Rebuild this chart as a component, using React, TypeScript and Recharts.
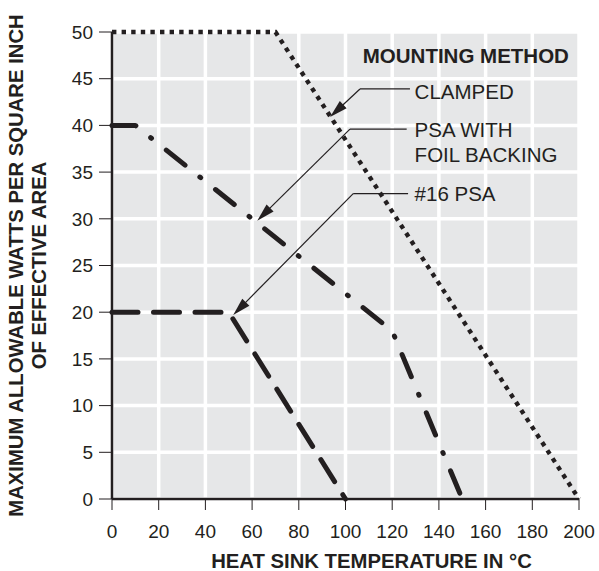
import React from "react";
import { LineChart, Line, XAxis, YAxis, CartesianGrid, ReferenceLine, ReferenceDot, Label } from "recharts";

const FONT = '"Liberation Sans", Arial, Helvetica, sans-serif';
const INK = "#231f20";

// heat sink temperature (°C) / allowable watts per square inch
const clampedX = [0, 70, 200];
const clampedY = [50, 50, 0];
const foilX = [0, 10, 120, 150];
const foilY = [40, 40, 18, 0];
const psaX = [0, 50, 100];
const psaY = [20, 20, 0];

const xTicks = [0, 20, 40, 60, 80, 100, 120, 140, 160, 180, 200];
const yTicks = [0, 5, 10, 15, 20, 25, 30, 35, 40, 45, 50];

// callouts (data units)
const calloutText = [["CLAMPED"], ["PSA WITH", "FOIL BACKING"], ["#16 PSA"]];
const calloutTip = [[93.4, 40.9], [62.2, 29.8], [51.9, 19.7]];
const calloutKnee = [[106.2, 43.9], [101.9, 39.6], [103.3, 32.7]];
const calloutEndX = [127.6, 126.2, 126.8];
const calloutTextAt = [[129.6, 42.8], [129.6, 38.73], [129.6, 31.94]];
const legendTitle = "MOUNTING METHOD";
const legendTitleAt = [107.4, 46.65];

const toPoints = (xs: number[], ys: number[]) => xs.map((x, i) => ({ x, y: ys[i] }));

const clamped = toPoints(clampedX, clampedY);
const foil = toPoints(foilX, foilY);
const psa = toPoints(psaX, psaY);

function ArrowLine(props: any) {
  const { x1, y1, x2, y2 } = props;
  const dx = x2 - x1;
  const dy = y2 - y1;
  const len = Math.hypot(dx, dy) || 1;
  const ux = dx / len;
  const uy = dy / len;
  const L = 18;
  const W = 5;
  const bx = x2 - ux * L;
  const by = y2 - uy * L;
  const pts = `${x2},${y2} ${bx - uy * W},${by + ux * W} ${bx + uy * W},${by - ux * W}`;
  return (
    <g>
      <line x1={x1} y1={y1} x2={bx + ux * 2} y2={by + uy * 2} stroke={INK} strokeWidth={1.2} />
      <polygon points={pts} fill={INK} />
    </g>
  );
}

function textShape(lines: string[], bold: boolean) {
  return (p: any) => (
    <text
      x={p.cx}
      y={p.cy}
      fill={INK}
      fontFamily={FONT}
      fontSize={20.5}
      fontWeight={bold ? 700 : 400}
    >
      {lines.map((l, i) => (
        <tspan key={i} x={p.cx} dy={i === 0 ? 0 : 24.4}>
          {l}
        </tspan>
      ))}
    </text>
  );
}

export default function App() {
  return (
    <div style={{ position: "absolute", left: 0, top: 0, background: "#fff" }}>
      <LineChart width={599} height={571} margin={{ top: 32, right: 20, bottom: 42, left: 0 }}>
        <CartesianGrid fill="#e6e7e8" fillOpacity={1} stroke="#ffffff" strokeWidth={3.5} />
        <XAxis
          type="number"
          dataKey="x"
          domain={[0, 200]}
          ticks={xTicks}
          interval={0}
          height={30}
          tickSize={11}
          tickMargin={15}
          axisLine={{ stroke: INK, strokeWidth: 2.5 }}
          tickLine={{ stroke: INK, strokeWidth: 1 }}
          tick={{ fill: INK, fontSize: 19, fontFamily: FONT }}
        >
          <Label
            value="HEAT SINK TEMPERATURE IN °C"
            position="bottom"
            offset={24.5}
            dx={26}
            fill={INK}
            fontSize={20.3}
            fontWeight={700}
            fontFamily={FONT}
          />
        </XAxis>
        <YAxis
          type="number"
          domain={[0, 50]}
          ticks={yTicks}
          interval={0}
          width={112}
          tickSize={13}
          tickMargin={6}
          axisLine={{ stroke: INK, strokeWidth: 2.5 }}
          tickLine={{ stroke: INK, strokeWidth: 1 }}
          tick={{ fill: INK, fontSize: 19, fontFamily: FONT }}
        >
          <Label
            value="MAXIMUM ALLOWABLE WATTS PER SQUARE INCH"
            angle={-90}
            position="insideLeft"
            offset={15.5}
            fill={INK}
            fontSize={20.3}
            fontWeight={700}
            fontFamily={FONT}
            style={{ textAnchor: "middle" }}
          />
          <Label
            value="OF EFFECTIVE AREA"
            angle={-90}
            position="insideLeft"
            offset={38.7}
            fill={INK}
            fontSize={20.3}
            fontWeight={700}
            fontFamily={FONT}
            style={{ textAnchor: "middle" }}
          />
        </YAxis>

        <Line
          data={clamped}
          dataKey="y"
          type="linear"
          stroke={INK}
          strokeWidth={4.4}
          strokeDasharray="4.4 5.2"
          strokeLinecap="butt"
          dot={false}
          activeDot={false}
          isAnimationActive={false}
        />
        <Line
          data={foil}
          dataKey="y"
          type="linear"
          stroke={INK}
          strokeWidth={5}
          strokeDasharray="24 19 1 19"
          strokeLinecap="round"
          strokeLinejoin="round"
          dot={false}
          activeDot={false}
          isAnimationActive={false}
        />
        <Line
          data={psa}
          dataKey="y"
          type="linear"
          stroke={INK}
          strokeWidth={5}
          strokeDasharray="26 15.5"
          strokeLinecap="round"
          strokeLinejoin="round"
          dot={false}
          activeDot={false}
          isAnimationActive={false}
        />

        {calloutText.map((_, i) => (
          <ReferenceLine
            key={`h${i}`}
            segment={[
              { x: calloutEndX[i], y: calloutKnee[i][1] },
              { x: calloutKnee[i][0], y: calloutKnee[i][1] },
            ]}
            stroke={INK}
            strokeWidth={1.2}
          />
        ))}
        {calloutText.map((_, i) => (
          <ReferenceLine
            key={`d${i}`}
            segment={[
              { x: calloutKnee[i][0], y: calloutKnee[i][1] },
              { x: calloutTip[i][0], y: calloutTip[i][1] },
            ]}
            shape={(p: any) => <ArrowLine {...p} />}
          />
        ))}
        {calloutText.map((lines, i) => (
          <ReferenceDot
            key={`t${i}`}
            x={calloutTextAt[i][0]}
            y={calloutTextAt[i][1]}
            r={1}
            ifOverflow="visible"
            shape={textShape(lines, false)}
          />
        ))}
        <ReferenceDot
          x={legendTitleAt[0]}
          y={legendTitleAt[1]}
          r={1}
          ifOverflow="visible"
          shape={textShape([legendTitle], true)}
        />
      </LineChart>
    </div>
  );
}
